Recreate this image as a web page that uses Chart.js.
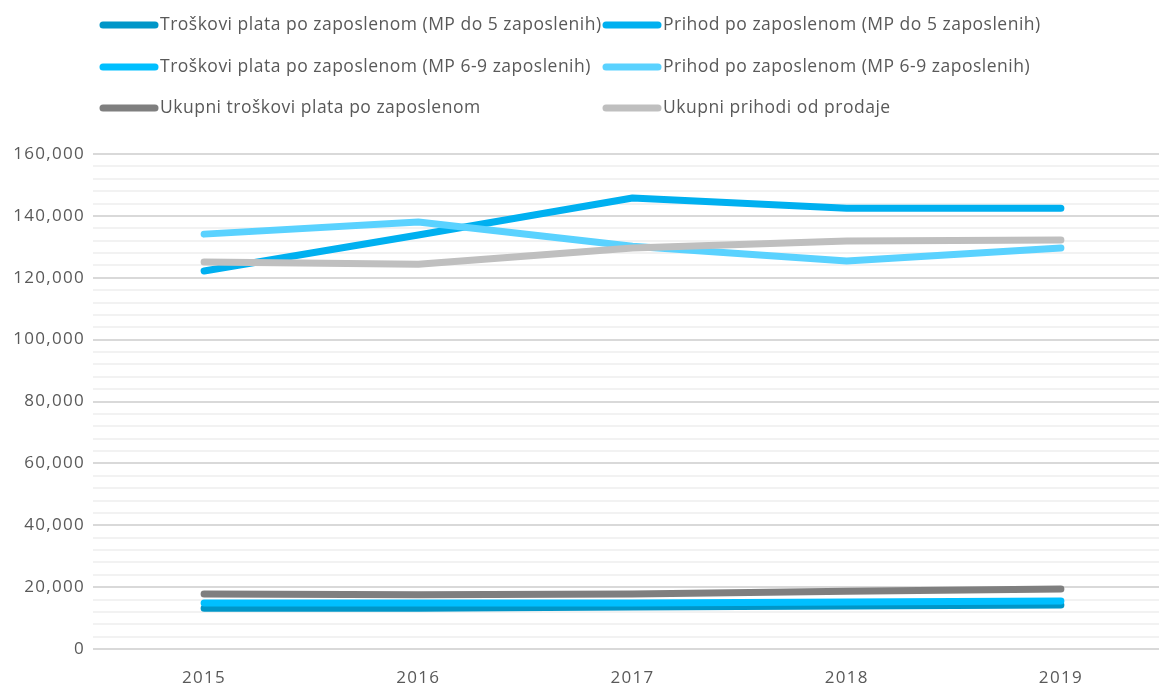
<!DOCTYPE html>
<html>
<head>
<meta charset="utf-8">
<script src="https://cdn.jsdelivr.net/npm/chart.js@4.4.1/dist/chart.umd.min.js"></script>
<style>
  html, body { margin: 0; padding: 0; background: #fff; overflow: hidden; }
  #wrap { width: 1168px; height: 686px; position: relative; }
</style>
</head>
<body>
<div id="wrap"><canvas id="chart"></canvas></div>
<script>
// categories
const years = ['2015', '2016', '2017', '2018', '2019'];

// series values
const troskoviDo5 = [13200, 13200, 13600, 13900, 14200];
const prihodDo5 = [122200, 133800, 145800, 142500, 142500];
const troskovi69 = [14900, 14900, 14900, 15200, 15500];
const prihod69 = [134100, 138000, 130200, 125400, 129600];
const ukupniTroskovi = [17800, 17500, 17800, 18700, 19400];
const ukupniPrihodi = [125100, 124400, 129600, 131900, 132200];

const seriesNames = [
  'Troškovi plata po zaposlenom (MP do 5 zaposlenih)',
  'Prihod po zaposlenom (MP do 5 zaposlenih)',
  'Troškovi plata po zaposlenom (MP 6-9 zaposlenih)',
  'Prihod po zaposlenom (MP 6-9 zaposlenih)',
  'Ukupni troškovi plata po zaposlenom',
  'Ukupni prihodi od prodaje'
];
const seriesData = [troskoviDo5, prihodDo5, troskovi69, prihod69, ukupniTroskovi, ukupniPrihodi];
const seriesColors = ['#0096C8', '#00B0F0', '#00BFFF', '#5AD2FF', '#7F7F7F', '#BFBFBF'];

const FONT = '"Open Sans", "Noto Sans", sans-serif';
const TEXT = '#595959';

// wider letter spacing for the axis labels (Excel look)
const spacing = {
  id: 'spacing',
  beforeDraw(chart) { chart.ctx.letterSpacing = '1.3px'; }
};

// legend drawn in two columns, like the original
const legendGrid = {
  id: 'legendGrid',
  afterDraw(chart) {
    const ctx = chart.ctx;
    const cols = [100, 603];
    const rows = [25, 67, 108];
    ctx.save();
    ctx.letterSpacing = '0.5px';
    ctx.font = '17.5px ' + FONT;
    ctx.textBaseline = 'middle';
    ctx.fillStyle = TEXT;
    chart.data.datasets.forEach((ds, i) => {
      const x = cols[i % 2];
      const y = rows[Math.floor(i / 2)];
      ctx.strokeStyle = ds.borderColor;
      ctx.lineWidth = 7;
      ctx.lineCap = 'round';
      ctx.beginPath();
      ctx.moveTo(x + 3, y);
      ctx.lineTo(x + 55, y);
      ctx.stroke();
      ctx.fillText(ds.label, x + 60, y);
    });
    ctx.restore();
  }
};

new Chart(document.getElementById('chart'), {
  type: 'line',
  data: {
    labels: years,
    datasets: seriesNames.map((name, i) => ({
      label: name,
      data: seriesData[i],
      borderColor: seriesColors[i],
      backgroundColor: seriesColors[i],
      borderWidth: 7,
      borderCapStyle: 'round',
      borderJoinStyle: 'round',
      pointRadius: 0,
      tension: 0,
      order: seriesNames.length - i
    }))
  },
  options: {
    responsive: true,
    maintainAspectRatio: false,
    animation: false,
    layout: { padding: { top: 154, left: 0, right: 0, bottom: 0 } },
    plugins: {
      legend: { display: false },
      tooltip: { enabled: false }
    },
    scales: {
      x: {
        offset: true,
        grid: { display: false, drawTicks: false },
        border: { display: false },
        ticks: { color: TEXT, font: { family: FONT, size: 17 }, padding: 19 },
        afterFit(scale) { scale.height = 37; }
      },
      y: {
        min: 0,
        max: 160000,
        border: { display: false },
        grid: {
          color: ctx => (ctx.tick && ctx.tick.value % 20000 === 0) ? '#D9D9D9' : '#F2F2F2',
          lineWidth: 2,
          tickLength: 4
        },
        ticks: {
          stepSize: 4000,
          autoSkip: false,
          color: TEXT,
          font: { family: FONT, size: 17 },
          padding: 8,
          callback: v => v % 20000 === 0 ? v.toLocaleString('en-US') : ''
        },
        afterFit(scale) { scale.width = 97; }
      }
    }
  },
  plugins: [spacing, legendGrid]
});
</script>
</body>
</html>
